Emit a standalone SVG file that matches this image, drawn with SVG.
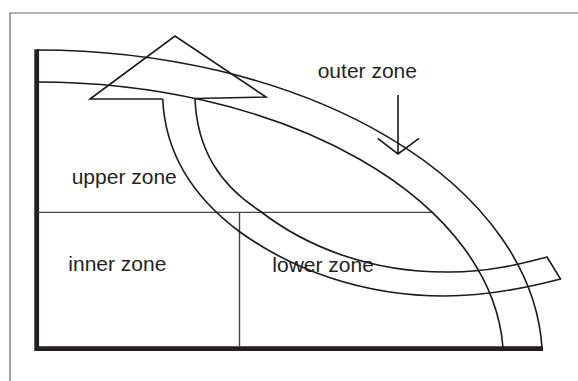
<svg xmlns="http://www.w3.org/2000/svg" width="578" height="381" viewBox="0 0 578 381">
<style>
.frame{stroke:#666;stroke-width:1.2;fill:none}
.axis{stroke:#231f20;stroke-width:4.8;fill:none;stroke-linecap:butt}
.thin{stroke:#444;stroke-width:1.4;fill:none}
.line{stroke:#1a1a1a;stroke-width:1.6;fill:none;stroke-linejoin:miter}
.lbl{font-family:"Liberation Sans",Arial,sans-serif;font-size:21px;fill:#231f20}
</style>
<rect width="578" height="381" fill="#fff"/>
<g id="frame">
<path class="frame" d="M10,381 V13 H578"/>
</g>
<g id="axes">
<path class="axis" d="M36.7,49.3 V348.7 H543"/>
</g>
<g id="zone-dividers">
<path class="thin" d="M37,212.4 H433"/>
<path class="thin" d="M239.5,212.4 V347"/>
</g>
<g id="outer-band">
<path class="line" d="M37,50 A505.4,310 0 0 1 542,348"/>
<path class="line" d="M37,82 A466.4,278 0 0 1 503,348"/>
</g>
<g id="curved-arrow">
<path class="line" d="M162.7,99 L90,99 L175,36 L266,97 L195,98.5"/>
<path class="line" d="M162.7,99 C165,150 190,195 240,232 C290,268 360,296 445,296 C490,296 530,287 560.5,279 L547,257 C520,264 490,272 450,272 C370,273 305,246 260,211 C220,185 197,150 195,98.5"/>
</g>
<g id="upper-zone"><text class="lbl" x="71.7" y="184.3">upper zone</text></g>
<g id="inner-zone"><text class="lbl" x="68.3" y="271">inner zone</text></g>
<g id="lower-zone"><text class="lbl" x="272.3" y="271.7">lower zone</text></g>
<g id="outer-zone"><text class="lbl" x="317.7" y="77.7">outer zone</text></g>
<g id="connectors">
<path class="line" d="M398,95 V154 M377.7,138.3 L398,154 L419,138.3"/>
</g>
</svg>
